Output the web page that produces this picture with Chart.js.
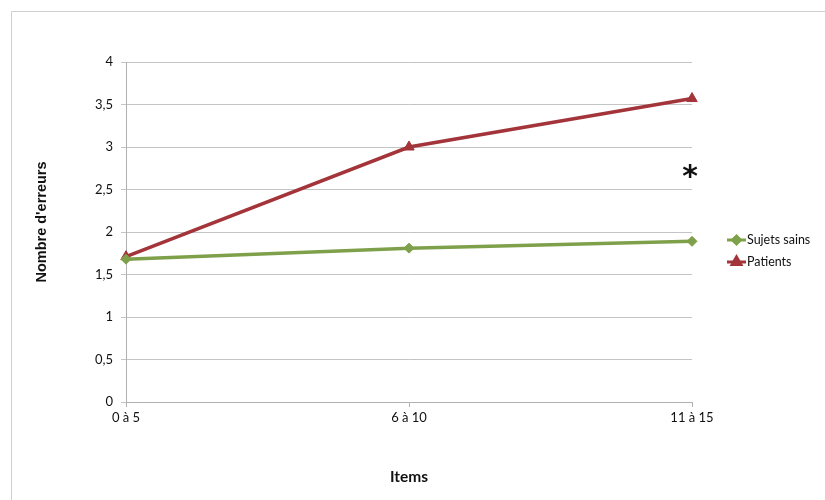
<!DOCTYPE html>
<html>
<head>
<meta charset="utf-8">
<script src="https://cdn.jsdelivr.net/npm/chart.js@4.4.1/dist/chart.umd.min.js"></script>
<style>
  html, body { margin: 0; padding: 0; background: #fff; }
  #wrap { width: 825px; height: 500px; position: relative; }
</style>
</head>
<body>
<div id="wrap"><canvas id="chart"></canvas></div>
<script>
const categories = ['0 à 5', '6 à 10', '11 à 15'];
const sujetsSains = [1.68, 1.81, 1.89];
const patients = [1.71, 3.0, 3.57];
const yTicks = [0, 0.5, 1, 1.5, 2, 2.5, 3, 3.5, 4];
const yTitle = "Nombre d'erreurs";
const starMark = { index: 2, value: 2.7, text: '*' };

const GREEN = '#7fa04a';
const RED = '#a3343a';
const FONT = 'Lato, "Open Sans", sans-serif';

// frame, y title, asterisk and the Excel-style legend
const extras = {
  id: 'extras',
  afterDraw(chart) {
    const ctx = chart.ctx;
    const x = chart.scales.x, y = chart.scales.y;
    ctx.save();
    ctx.strokeStyle = '#cfcfcf';
    ctx.lineWidth = 1;
    ctx.beginPath();
    ctx.moveTo(11.5, 500);
    ctx.lineTo(11.5, 11.5);
    ctx.lineTo(825, 11.5);
    ctx.stroke();

    ctx.save();
    ctx.translate(42, 222);
    ctx.rotate(-Math.PI / 2);
    ctx.fillStyle = '#111';
    ctx.font = 'bold 14.5px "Liberation Sans", Arial, sans-serif';
    ctx.textAlign = 'center';
    ctx.textBaseline = 'middle';
    ctx.fillText(yTitle, 0, 0);
    ctx.restore();

    ctx.fillStyle = '#111';
    ctx.font = 'bold 30px "DejaVu Sans", sans-serif';
    ctx.textAlign = 'center';
    ctx.textBaseline = 'middle';
    ctx.fillText(starMark.text, x.getPixelForValue(starMark.index) - 2, y.getPixelForValue(starMark.value) + 6);

    const items = [
      { label: 'Sujets sains', color: GREEN, style: 'rectRot', r: 4 },
      { label: 'Patients', color: RED, style: 'triangle', r: 5 }
    ];
    const lx = 727;
    items.forEach((it, i) => {
      const ly = 240 + i * 22;
      ctx.strokeStyle = it.color;
      ctx.lineWidth = 3;
      ctx.beginPath();
      ctx.moveTo(lx, ly);
      ctx.lineTo(lx + 19, ly);
      ctx.stroke();
      ctx.fillStyle = it.color;
      Chart.helpers.drawPoint(ctx, { pointStyle: it.style, radius: it.r, borderWidth: 1 }, lx + 9.5, ly);
      ctx.fillStyle = '#111';
      ctx.font = '12.5px ' + FONT;
      ctx.textAlign = 'left';
      ctx.fillText(it.label, lx + 20, ly);
    });
    ctx.restore();
  }
};

new Chart(document.getElementById('chart'), {
  type: 'line',
  data: {
    labels: categories,
    datasets: [{
      label: 'Sujets sains',
      data: sujetsSains,
      borderColor: GREEN,
      backgroundColor: GREEN,
      borderWidth: 3.5,
      pointStyle: 'rectRot',
      pointRadius: 5,
      pointBorderWidth: 1,
      tension: 0
    }, {
      label: 'Patients',
      data: patients,
      borderColor: RED,
      backgroundColor: RED,
      borderWidth: 3.5,
      pointStyle: 'triangle',
      pointRadius: 6,
      pointBorderWidth: 1,
      tension: 0
    }]
  },
  options: {
    responsive: true,
    maintainAspectRatio: false,
    animation: false,
    layout: { padding: { left: 0, top: 62, right: 133, bottom: 0 } },
    plugins: {
      legend: { display: false },
      tooltip: { enabled: false }
    },
    scales: {
      x: {
        offset: false,
        grid: { drawOnChartArea: false, drawTicks: true, tickLength: 5, color: '#b0b0b0' },
        border: { color: '#b0b0b0' },
        ticks: { color: '#111', font: { family: FONT, size: 13 }, padding: 3, maxRotation: 0 },
        title: {
          display: true,
          text: 'Items',
          color: '#111',
          font: { family: FONT, size: 15.5, weight: 'bold' },
          padding: { top: 0, bottom: 14 }
        },
        afterFit(scale) { scale.height = 98; }
      },
      y: {
        min: 0,
        max: 4,
        afterBuildTicks(scale) { scale.ticks = yTicks.map(v => ({ value: v })); },
        grid: { color: '#c4c4c4', tickLength: 5 },
        border: { color: '#b0b0b0' },
        ticks: {
          color: '#111',
          font: { family: FONT, size: 13 },
          padding: 8,
          callback: v => String(v).replace('.', ',')
        },
        afterFit(scale) { scale.width = 126; }
      }
    }
  },
  plugins: [extras]
});
</script>
</body>
</html>
